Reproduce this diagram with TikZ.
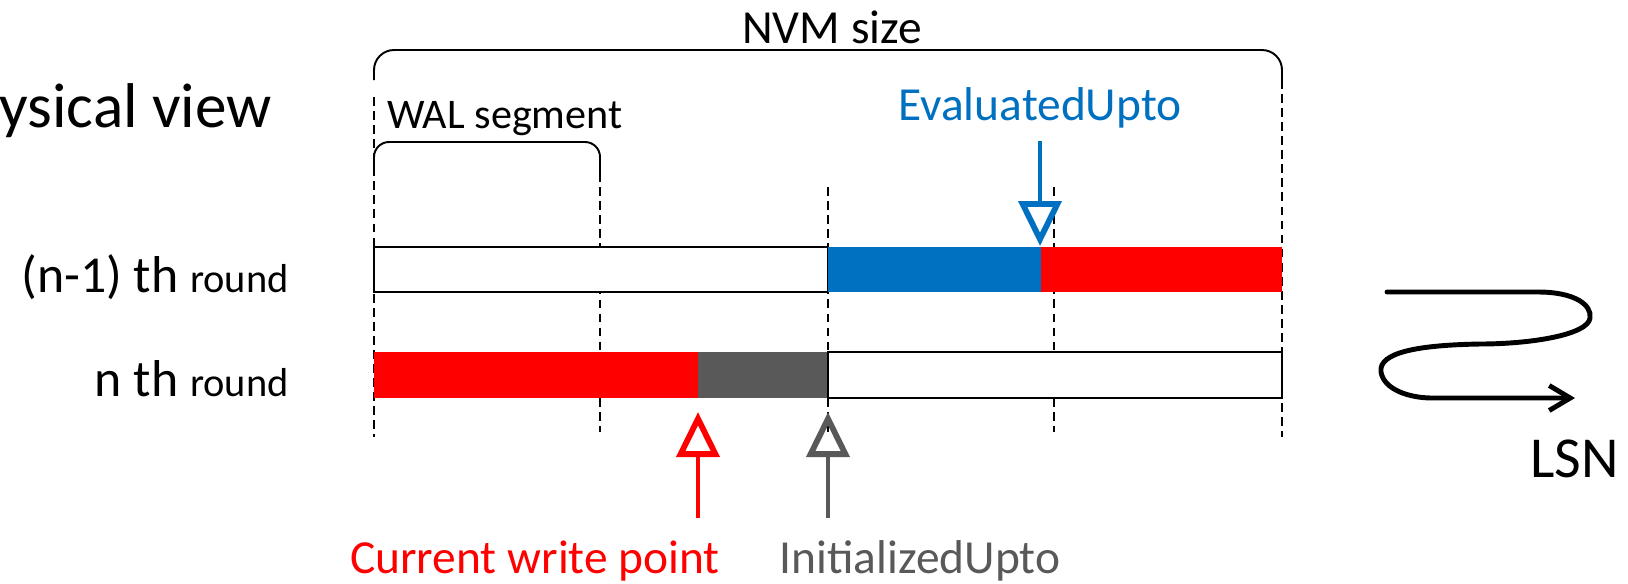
\documentclass[tikz,border=0pt]{standalone}
\usepackage{fontspec}
\setmainfont{Carlito}
\usetikzlibrary{arrows.meta}
\definecolor{evalblue}{HTML}{0070C0}
\definecolor{wred}{HTML}{FF0000}
\definecolor{initgray}{HTML}{595959}
\tikzset{seg/.style={draw=black, line width=1.5pt, fill=white}}
\tikzset{guide/.style={line width=0.8pt, dash pattern=on 5pt off 3pt}}
\tikzset{brace/.style={line width=1.1pt, rounded corners=0.4cm}}
\tikzset{pointer/.style={line width=1.8pt, -{Triangle[open, length=0.9cm, width=0.85cm, line width=3.3pt]}}}
\tikzset{lsn/.style={line width=2.8pt, line cap=round, -{Straight Barb[length=0.42cm, width=0.5cm]}}}
\tikzset{txt/.style={inner sep=0pt, font=\fontsize{27}{32}\selectfont}}
\tikzset{waltxt/.style={inner sep=0pt, font=\fontsize{24}{28}\selectfont}}
\tikzset{bigtxt/.style={inner sep=0pt, font=\fontsize{29.5}{34}\selectfont}}
\tikzset{hugetxt/.style={inner sep=0pt, font=\fontsize{33}{40}\selectfont}}
\newcommand{\smalltxt}[1]{{\fontsize{23}{28}\selectfont #1}}
\newcommand{\drawpointer}[3]{\draw[pointer, #3] (#1) -- (#2)}

\begin{document}
\begin{tikzpicture}[x=0.02cm, y=-0.02cm]
	\useasboundingbox (0,0) rectangle (1628,583);
	% Coordinates
	\coordinate (evalTop) at (1040,141);
	\coordinate (evalTip) at (1040,246);
	\coordinate (writeBot) at (698,518);
	\coordinate (writeTip) at (698,412);
	\coordinate (initBot) at (828,518);
	\coordinate (initTip) at (828,412);

	% Guides
	\draw[guide] (374,97) -- (374,437);
	\draw[guide] (600,173) -- (600,432);
	\draw[guide] (828,187) -- (828,432);
	\draw[guide] (1054,187) -- (1054,432);
	\draw[guide] (1282,80) -- (1282,437);

	% Braces
	\draw[brace] (374,80) -- (374,50) -- (1282,50) -- (1282,80);
	\draw[brace, rounded corners=0.3cm] (374,173) -- (374,142) -- (600,142) -- (600,173);

	% Bars
	%% (n-1) th round
	\draw[seg] (374,247) rectangle (828,292);
	\fill[evalblue] (828,247) rectangle (1041,292);
	\fill[wred] (1041,247) rectangle (1282,292);
	%% n th round
	\fill[wred] (374,352) rectangle (698,398);
	\fill[initgray] (698,352) rectangle (828,398);
	\draw[seg] (828,352) rectangle (1282,398);

	% Pointers
	\drawpointer{evalTop}{evalTip}{evalblue};
	\drawpointer{writeBot}{writeTip}{wred};
	\drawpointer{initBot}{initTip}{initgray};

	% LSN direction
	\draw[lsn] (1387,292) -- (1538,292) .. controls (1575,292) and (1592,305) .. (1590,318)
		.. controls (1588,335) and (1530,344) .. (1480,344)
		.. controls (1420,345) and (1378,352) .. (1381,372)
		.. controls (1384,390) and (1410,398) .. (1432,398) -- (1575,398);

	% Labels
	\node[hugetxt, font=\fontsize{36}{42}\selectfont, anchor=base east] (view) at (272,127) {Physical view};
	\node[txt, anchor=base] (nvm) at (832,43) {NVM size};
	\node[waltxt, anchor=base west] (wal) at (387,128) {WAL segment};
	\node[txt, anchor=base, text=evalblue] (eval) at (1040,120) {EvaluatedUpto};
	\node[bigtxt, anchor=base east] (prev) at (289,292) {(n-1) th \smalltxt{round}};
	\node[bigtxt, anchor=base east] (cur) at (289,396) {n th \smalltxt{round}};
	\node[txt, anchor=base, text=wred] (write) at (535,573) {Current write point};
	\node[txt, anchor=base, text=initgray] (init) at (920,573) {InitializedUpto};
	\node[hugetxt, anchor=base west] (lsn) at (1530,477) {LSN};
\end{tikzpicture}
\end{document}
